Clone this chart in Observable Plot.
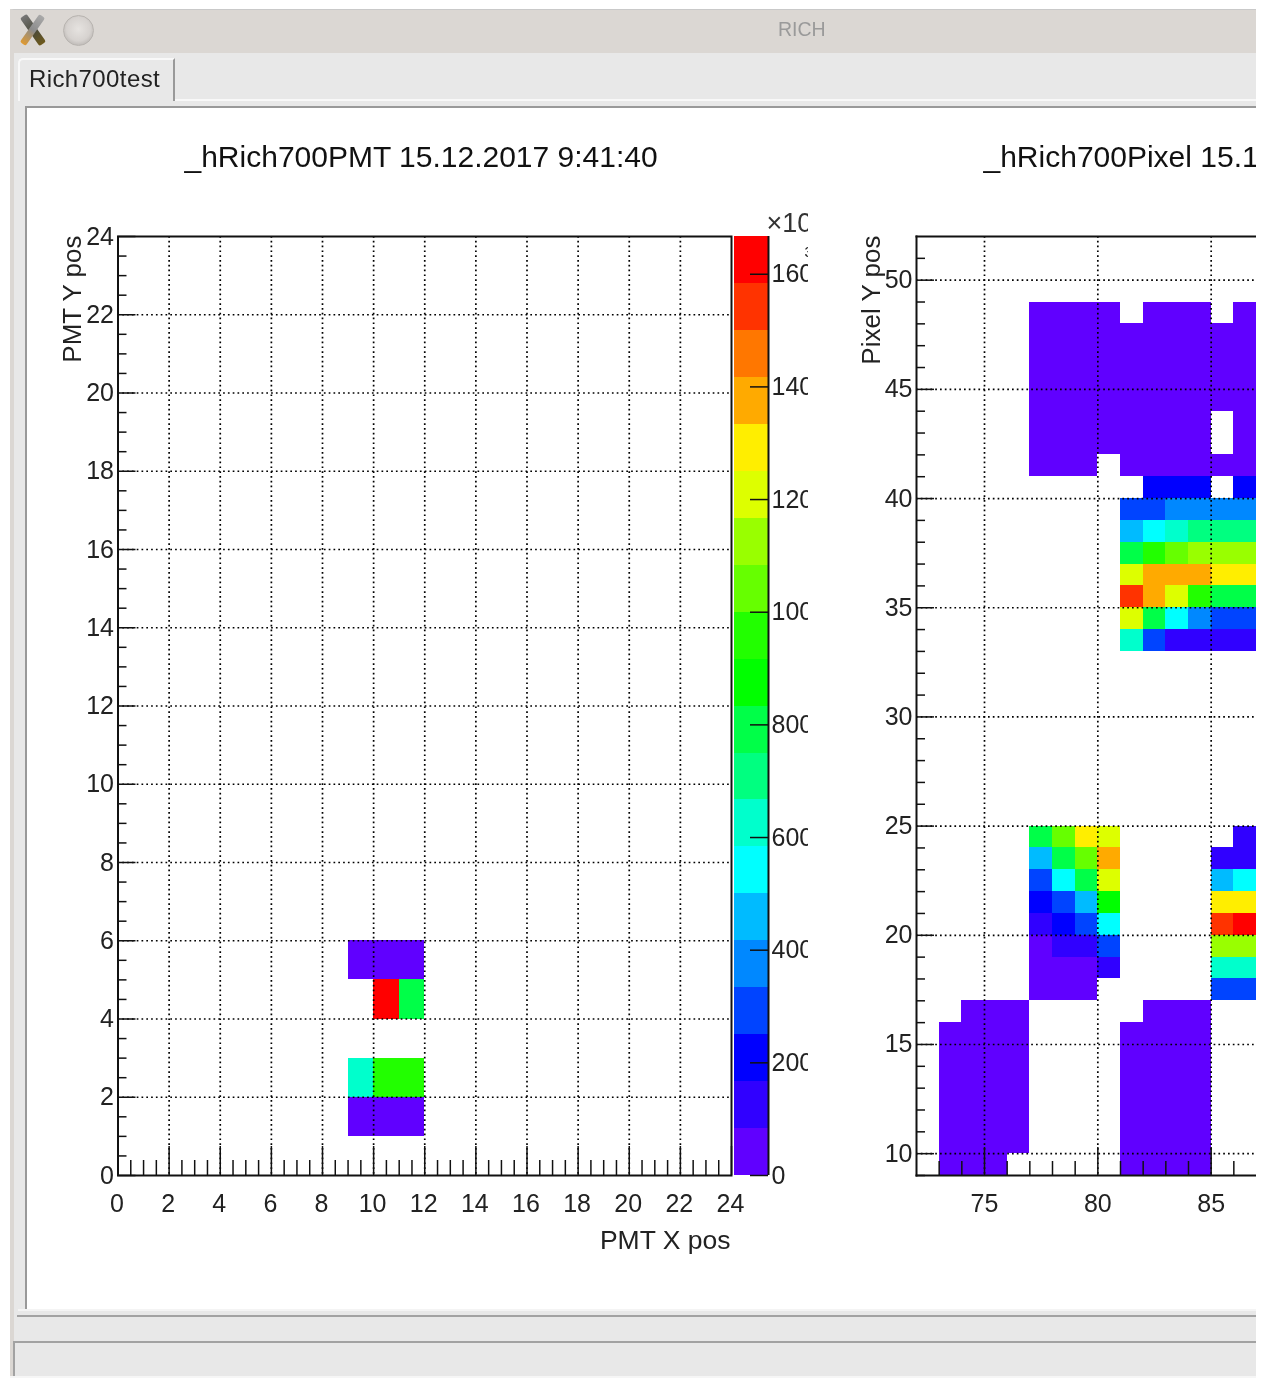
<!DOCTYPE html>
<html>
<head>
<meta charset="utf-8">
<script src="https://cdn.jsdelivr.net/npm/d3@7"></script>
<script src="https://cdn.jsdelivr.net/npm/@observablehq/plot@0.6"></script>
<style>
html,body{margin:0;padding:0;background:#fff;}
#stage{position:relative;width:1266px;height:1378px;overflow:hidden;background:#fff;font-family:"Liberation Sans",Arial,sans-serif;filter:blur(.45px);}
#stage>div{position:absolute;box-sizing:border-box;}
#stage>svg{position:absolute;}
</style>
</head>
<body>
<div id="stage">
  <div style="left:10px;top:9px;width:1246px;height:1368px;background:#e8e8e8;border-left:4px solid #dbd7d3;border-top:1px solid #c9c9c9"></div>
  <div style="left:10px;top:10px;width:1246px;height:43px;background:#dbd7d3"></div>
  <div style="left:778px;top:17px;color:#9a9a9a;font-size:19.5px;line-height:24px">RICH</div>
  <div style="left:29px;top:13px;width:8px;height:34px;background:linear-gradient(#777,#4a4a3a 55%,#6f5a1c);transform:rotate(-35deg);border-radius:2px"></div>
  <div style="left:29px;top:13px;width:7px;height:34px;background:linear-gradient(#a9a9a9,#8c8c8c 50%,#e09a30);transform:rotate(35deg);border-radius:2px"></div>
  <div style="left:63px;top:15px;width:31px;height:31px;border-radius:50%;background:radial-gradient(circle at 50% 45%,#e6e3e0,#d6d2cf 55%,#a5a19d);border:1px solid #b8b4b0"></div>
  <div style="left:18px;top:58px;width:157px;height:43px;background:#e8e8e8;border-left:2px solid #f8f8f8;border-top:2px solid #f8f8f8;border-right:2px solid #999;border-top-left-radius:5px"></div>
  <div style="left:29px;top:65px;color:#222;font-size:24px;line-height:28px;letter-spacing:.4px">Rich700test</div>
  <div style="left:175px;top:99px;width:1081px;height:2px;background:#f8f8f8"></div>
  <div style="left:25px;top:106px;width:1231px;height:1203px;background:#fff;border-left:2px solid #999;border-top:2px solid #999"></div>
  <div style="left:18px;top:1309px;width:1238px;height:2px;background:#f4f4f4"></div>
  <div style="left:17px;top:1315px;width:1239px;height:2px;background:#a2a2a2"></div>
  <div style="left:13px;top:1341px;width:1243px;height:2px;background:#a2a2a2"></div>
  <div style="left:13px;top:1341px;width:2px;height:35px;background:#a2a2a2"></div>
  <div style="left:10px;top:1376px;width:1246px;height:2px;background:#f6f6f6"></div>
</div>
<script>
// Shared colour levels (ROOT rainbow palette, 20 contours)
const zEdges = [0,83.35,166.7,250,333.4,416.7,500,583.4,666.8,750,833.5,916.8,1000,1083.5,1167,1250,1333.6,1417,1500,1583.6,1667];
const zPalette = ["#6000ff","#3000ff","#0000ff","#0044ff","#0088ff","#00bbff","#00ffff","#00ffcc","#00ff80","#00ff48","#00ff00","#22ff00","#66ff00","#99ff00","#ddff00","#ffee00","#ffaa00","#ff7700","#ff3300","#ff0000"];
const zTicks = [0,200,400,600,800,1000,1200,1400,1600];

// _hRich700PMT histogram bins
const pmtX = [9,10,11,9,10,11,10,11,9,10,11];
const pmtY = [1,1,1,2,2,2,4,4,5,5,5];
const pmtZ = [40,40,40,625,958,958,1625,792,40,40,40];

// _hRich700Pixel histogram bins: columns x = 73..86, rows y = 48 down to 9
const _ = null;
const pixelColumns = [73,74,75,76,77,78,79,80,81,82,83,84,85,86];
const pixelRows = [48,47,46,45,44,43,42,41,40,39,38,37,36,35,34,33,32,31,30,29,28,27,26,25,24,23,22,21,20,19,18,17,16,15,14,13,12,11,10,9];
const pixelZ = [
 [_,_,_,_,40,40,40,40,_,40,40,40,_,40],
 [_,_,_,_,40,40,40,40,40,40,40,40,40,40],
 [_,_,_,_,40,40,40,40,40,40,40,40,40,40],
 [_,_,_,_,40,40,40,40,40,40,40,40,40,40],
 [_,_,_,_,40,40,40,40,40,40,40,40,40,40],
 [_,_,_,_,40,40,40,40,40,40,40,40,_,40],
 [_,_,_,_,40,40,40,40,40,40,40,40,_,40],
 [_,_,_,_,40,40,40,_,40,40,40,40,40,40],
 [_,_,_,_,_,_,_,_,_,208,208,208,_,208],
 [_,_,_,_,_,_,_,_,292,292,375,375,375,375],
 [_,_,_,_,_,_,_,_,458,542,625,708,708,708],
 [_,_,_,_,_,_,_,_,792,958,1042,1125,1125,1125],
 [_,_,_,_,_,_,_,_,1208,1375,1375,1375,1292,1292],
 [_,_,_,_,_,_,_,_,1542,1375,1208,958,792,792],
 [_,_,_,_,_,_,_,_,1208,792,542,375,292,292],
 [_,_,_,_,_,_,_,_,625,292,125,125,125,125],
 [_,_,_,_,_,_,_,_,_,_,_,_,_,_],
 [_,_,_,_,_,_,_,_,_,_,_,_,_,_],
 [_,_,_,_,_,_,_,_,_,_,_,_,_,_],
 [_,_,_,_,_,_,_,_,_,_,_,_,_,_],
 [_,_,_,_,_,_,_,_,_,_,_,_,_,_],
 [_,_,_,_,_,_,_,_,_,_,_,_,_,_],
 [_,_,_,_,_,_,_,_,_,_,_,_,_,_],
 [_,_,_,_,_,_,_,_,_,_,_,_,_,_],
 [_,_,_,_,792,1042,1292,1208,_,_,_,_,_,125],
 [_,_,_,_,458,792,1042,1375,_,_,_,_,125,125],
 [_,_,_,_,292,542,792,1208,_,_,_,_,458,542],
 [_,_,_,_,208,292,458,875,_,_,_,_,1292,1292],
 [_,_,_,_,125,208,292,542,_,_,_,_,1542,1625],
 [_,_,_,_,40,125,125,292,_,_,_,_,1125,1125],
 [_,_,_,_,40,40,40,125,_,_,_,_,625,625],
 [_,_,_,_,40,40,40,_,_,_,_,_,292,292],
 [_,40,40,40,_,_,_,_,_,40,40,40,_,_],
 [40,40,40,40,_,_,_,_,40,40,40,40,_,_],
 [40,40,40,40,_,_,_,_,40,40,40,40,_,_],
 [40,40,40,40,_,_,_,_,40,40,40,40,_,_],
 [40,40,40,40,_,_,_,_,40,40,40,40,_,_],
 [40,40,40,40,_,_,_,_,40,40,40,40,_,_],
 [40,40,40,40,_,_,_,_,40,40,40,40,_,_],
 [40,40,40,_,_,_,_,_,40,40,40,40,_,_]
];

// Texts and ticks
const pmtTitle = "_hRich700PMT 15.12.2017 9:41:40";
const pixelTitle = "_hRich700Pixel 15.12.2017 9:41:40";
const pmtXLabel = "PMT X pos";
const pmtYLabel = "PMT Y pos";
const pixelYLabel = "Pixel Y pos";
const pmtMajor = [0,2,4,6,8,10,12,14,16,18,20,22,24];
const pmtGrid = [2,4,6,8,10,12,14,16,18,20,22];
const pmtMinor = d3.range(0.5,24,0.5).filter(v => v % 2 !== 0);
const pixelXMajor = [75,80,85];
const pixelXMinor = [73,74,76,77,78,79,81,82,83,84,86];
const pixelYMajor = [10,15,20,25,30,35,40,45,50];
const pixelYMinor = d3.range(9,52).filter(v => v % 5 !== 0);

const font = '"Liberation Sans", Arial, sans-serif';
const ink = "#111";
const dots = {stroke:"#000", strokeOpacity:1, strokeWidth:1.7, strokeDasharray:"1.7,3.1"};
const line = {stroke:ink, strokeWidth:1.5};
const colorScale = {type:"threshold", domain:zEdges.slice(1,-1), range:zPalette};
const top0 = 130, frameTop = 236, frameBottom = 1175, H = frameBottom - frameTop;
const stage = document.getElementById("stage");
function place(svg, left, clip){
  svg.style.left = left + "px";
  svg.style.top = top0 + "px";
  svg.style.position = "absolute";
  svg.style.overflow = clip ? "hidden" : "visible";
  stage.appendChild(svg);
}
const baseStyle = {background:"transparent", fontFamily:font, color:"#222"};

// Left histogram
const W1 = 613.5;
const pmtCells = pmtZ.map((z,i) => ({x:pmtX[i], y:pmtY[i], z}));
place(Plot.plot({
  width:733, height:1135, marginLeft:117.5, marginRight:2, marginTop:frameTop-top0, marginBottom:130+1135-frameBottom,
  style:baseStyle,
  x:{domain:[0,24], label:null}, y:{domain:[0,24], label:null}, color:colorScale,
  marks:[
    Plot.rect(pmtCells,{x1:"x", x2:d=>d.x+1, y1:"y", y2:d=>d.y+1, fill:"z", shapeRendering:"crispEdges"}),
    Plot.gridX(pmtGrid,dots),
    Plot.gridY(pmtGrid,dots),
    Plot.ruleX(pmtMajor,{...line, insetTop:H-29}),
    Plot.ruleX(pmtMinor,{...line, insetTop:H-15}),
    Plot.ruleY(pmtMajor,{...line, insetRight:W1-18}),
    Plot.ruleY(pmtMinor,{...line, insetRight:W1-9}),
    Plot.frame({stroke:ink, strokeWidth:2}),
    Plot.axisX(pmtMajor,{anchor:"bottom", tickSize:0, tickPadding:19, dx:-1, fontSize:25, tickFormat:d=>String(d), label:null}),
    Plot.axisY(pmtMajor,{anchor:"left", tickSize:0, tickPadding:4, fontSize:25, tickFormat:d=>String(d), label:null}),
    Plot.text([pmtTitle],{frameAnchor:"top-left", dx:66.5, dy:-79, textAnchor:"start", lineAnchor:"middle", fontSize:30, fill:"#111"}),
    Plot.text([pmtXLabel],{frameAnchor:"bottom-right", dx:-1, dy:65, textAnchor:"end", lineAnchor:"middle", fontSize:26.5, fill:"#222"}),
    Plot.text([pmtYLabel],{frameAnchor:"top-left", dx:-45.5, dy:-1, rotate:-90, textAnchor:"end", lineAnchor:"middle", fontSize:26, fill:"#222"})
  ]
}),0,false);

// Colour palette bar
const bands = zPalette.map((c,i) => ({lo:zEdges[i], hi:zEdges[i+1], mid:(zEdges[i]+zEdges[i+1])/2}));
place(Plot.plot({
  width:75, height:1135, marginLeft:1, marginRight:40, marginTop:frameTop-top0, marginBottom:130+1135-frameBottom,
  style:baseStyle,
  x:{domain:[0,1], axis:null}, y:{domain:[0,1667], label:null, axis:null}, color:colorScale,
  marks:[
    Plot.rect(bands,{x1:0, x2:1, y1:"lo", y2:"hi", fill:"mid", shapeRendering:"crispEdges"}),
    Plot.ruleY(zTicks,{...line, insetLeft:16}),
    Plot.ruleX([1],{stroke:ink, strokeWidth:2}),
    Plot.axisY(zTicks,{anchor:"right", tickSize:0, tickPadding:3, fontSize:25, tickFormat:d=>String(d), label:null}),
    Plot.text(["×10"],{frameAnchor:"top-left", dx:32, dy:-13, textAnchor:"start", lineAnchor:"middle", fontSize:27, fill:"#333"}),
    Plot.text(["3"],{frameAnchor:"top-left", dx:70, dy:16, textAnchor:"start", lineAnchor:"middle", fontSize:14, fill:"#111"})
  ]
}),733,true);

// Right histogram, cut off by the window edge
const W2 = 340;
const pixelCells = [];
pixelRows.forEach((y,r) => pixelColumns.forEach((x,c) => { if (pixelZ[r][c] !== null) pixelCells.push({x, y, z:pixelZ[r][c]}); }));
place(Plot.plot({
  width:1256-850, height:1135, marginLeft:916-850, marginRight:0, marginTop:frameTop-top0, marginBottom:130+1135-frameBottom,
  style:baseStyle,
  x:{domain:[72,87], label:null}, y:{domain:[9,52], label:null}, color:colorScale,
  marks:[
    Plot.rect(pixelCells,{x1:"x", x2:d=>d.x+1, y1:"y", y2:d=>d.y+1, fill:"z", shapeRendering:"crispEdges"}),
    Plot.gridX(pixelXMajor,dots),
    Plot.gridY(pixelYMajor,dots),
    Plot.ruleX(pixelXMajor,{...line, insetTop:H-28}),
    Plot.ruleX(pixelXMinor,{...line, insetTop:H-14}),
    Plot.ruleY(pixelYMajor,{...line, insetRight:W2-18}),
    Plot.ruleY(pixelYMinor,{...line, insetRight:W2-9}),
    Plot.frame({anchor:"left", stroke:ink, strokeWidth:2}),
    Plot.frame({anchor:"top", stroke:ink, strokeWidth:2}),
    Plot.frame({anchor:"bottom", stroke:ink, strokeWidth:2}),
    Plot.axisX(pixelXMajor,{anchor:"bottom", tickSize:0, tickPadding:19, fontSize:25, tickFormat:d=>String(d), label:null}),
    Plot.axisY(pixelYMajor,{anchor:"left", tickSize:0, tickPadding:4, fontSize:25, tickFormat:d=>String(d), label:null}),
    Plot.text([pixelTitle],{frameAnchor:"top-left", dx:67, dy:-79, textAnchor:"start", lineAnchor:"middle", fontSize:30, fill:"#111"}),
    Plot.text([pixelYLabel],{frameAnchor:"top-left", dx:-45, dy:-1, rotate:-90, textAnchor:"end", lineAnchor:"middle", fontSize:26, fill:"#222"})
  ]
}),850,true);
</script>
</body>
</html>
